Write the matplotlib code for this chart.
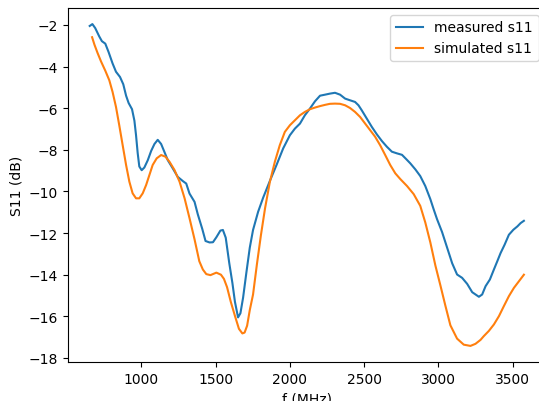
import matplotlib
matplotlib.use("Agg")
import matplotlib.pyplot as plt
import numpy as np

# measured s11
f_meas = [652, 670, 689, 716, 734, 757, 779, 806, 829, 856, 878, 897, 914, 937,
          953, 964, 975, 986, 1002, 1020, 1043, 1066, 1088, 1110, 1133, 1155,
          1178, 1212, 1245, 1279, 1302, 1324, 1358, 1380, 1410, 1432, 1459,
          1482, 1505, 1532, 1549, 1568, 1592, 1613, 1630, 1651, 1667, 1685,
          1707, 1730, 1752, 1786, 1820, 1865, 1910, 1955, 2000, 2034, 2068,
          2101, 2135, 2169, 2203, 2237, 2270, 2304, 2338, 2372, 2405, 2439,
          2462, 2484, 2518, 2552, 2586, 2620, 2653, 2687, 2721, 2755, 2784,
          2811, 2845, 2878, 2912, 2946, 2968, 2991, 3025, 3059, 3093, 3126,
          3160, 3194, 3228, 3273, 3295, 3318, 3347, 3374, 3397, 3419, 3446,
          3475, 3505, 3532, 3554, 3576]
s11_meas = [-2.05, -1.96, -2.15, -2.55, -2.78, -2.90, -3.30, -3.85, -4.25, -4.50,
            -4.85, -5.40, -5.75, -6.05, -6.60, -7.30, -8.15, -8.80, -8.98, -8.85,
            -8.50, -8.05, -7.72, -7.52, -7.72, -8.10, -8.50, -8.90, -9.30, -9.50,
            -9.62, -10.10, -10.50, -11.10, -11.80, -12.38, -12.45, -12.44, -12.20,
            -11.88, -11.85, -12.22, -13.45, -14.40, -15.30, -16.05, -15.85, -15.10,
            -13.90, -12.70, -11.85, -10.98, -10.30, -9.50, -8.73, -7.93, -7.30,
            -6.98, -6.74, -6.34, -6.02, -5.67, -5.40, -5.35, -5.30, -5.26, -5.35,
            -5.54, -5.62, -5.70, -5.86, -6.10, -6.50, -6.90, -7.26, -7.58, -7.85,
            -8.09, -8.17, -8.24, -8.45, -8.65, -8.94, -9.26, -9.74, -10.37, -10.85,
            -11.33, -11.95, -12.70, -13.45, -13.99, -14.15, -14.44, -14.84, -15.06,
            -14.95, -14.55, -14.23, -13.75, -13.35, -12.96, -12.56, -12.08, -11.84,
            -11.68, -11.52, -11.41]

# simulated s11
f_sim = [668, 684, 705, 728, 757, 784, 806, 829, 851, 874, 897, 919, 941, 964,
         986, 1009, 1032, 1054, 1076, 1103, 1133, 1162, 1189, 1223, 1257, 1291,
         1324, 1358, 1390, 1414, 1437, 1465, 1505, 1536, 1556, 1577, 1602, 1631,
         1657, 1680, 1695, 1712, 1730, 1752, 1778, 1805, 1833, 1865, 1899, 1932,
         1966, 2000, 2034, 2068, 2101, 2135, 2169, 2203, 2237, 2270, 2304, 2338,
         2372, 2405, 2439, 2473, 2507, 2541, 2574, 2608, 2642, 2676, 2710, 2743,
         2789, 2834, 2878, 2912, 2946, 2980, 3014, 3047, 3081, 3126, 3171, 3216,
         3250, 3284, 3306, 3340, 3374, 3408, 3441, 3475, 3509, 3543, 3576]
s11_sim = [-2.59, -2.95, -3.35, -3.75, -4.20, -4.66, -5.22, -5.94, -6.82, -7.78,
           -8.73, -9.53, -10.09, -10.33, -10.33, -10.09, -9.69, -9.21, -8.73,
           -8.41, -8.25, -8.33, -8.57, -8.97, -9.53, -10.33, -11.28, -12.30,
           -13.35, -13.75, -13.97, -14.02, -13.90, -14.00, -14.20, -14.60, -15.30,
           -16.00, -16.60, -16.82, -16.78, -16.45, -15.70, -14.95, -13.50, -12.10,
           -10.80, -9.55, -8.57, -7.78, -7.14, -6.82, -6.58, -6.34, -6.18, -6.05,
           -5.97, -5.90, -5.84, -5.79, -5.78, -5.79, -5.86, -5.99, -6.18, -6.42,
           -6.74, -7.06, -7.37, -7.78, -8.25, -8.73, -9.13, -9.40, -9.74, -10.13,
           -10.69, -11.49, -12.45, -13.56, -14.52, -15.48, -16.43, -17.07, -17.36,
           -17.42, -17.32, -17.13, -16.95, -16.70, -16.39, -15.99, -15.51, -15.03,
           -14.63, -14.31, -14.00]

fig = plt.figure(figsize=(5.39, 4.02), dpi=100)
# axes run past the right edge, as in the (cropped) reference
ax = fig.add_axes([68 / 539, 39 / 402, 477.6 / 539, 354 / 402])

ax.plot(f_meas, s11_meas, label="measured s11")
ax.plot(f_sim, s11_sim, label="simulated s11")

ax.set_xlabel("f (MHz)")
ax.set_ylabel("S11 (dB)")
ax.legend(loc="upper right")

fig.savefig("out.png", dpi=100)
